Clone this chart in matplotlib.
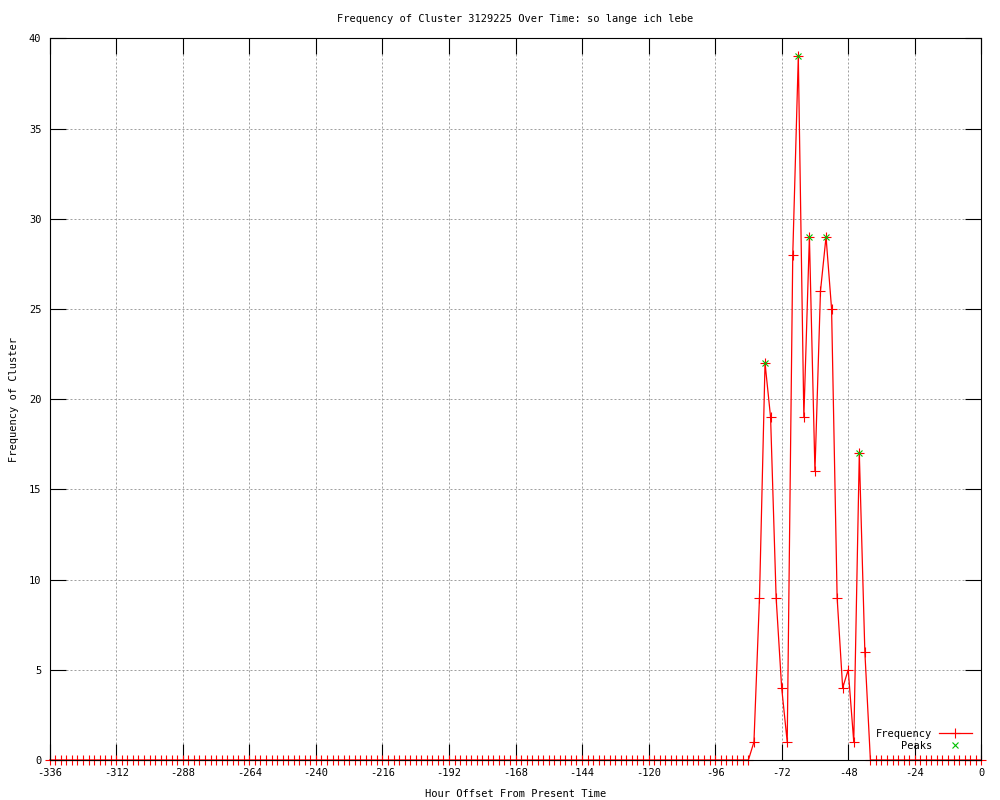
import numpy as np
import matplotlib
matplotlib.use("Agg")
import matplotlib.pyplot as plt

plt.rcParams['font.family'] = ['DejaVu Sans Mono']
plt.rcParams['axes.unicode_minus'] = False

# hourly offsets, one sample every 2 hours
hours = np.arange(-336, 1, 2)
# frequency per sample: flat zero, burst between -82 and -42, then zero again
burst = [1, 9, 22, 19, 9, 4, 1, 28, 39, 19, 29, 16, 26, 29, 25, 9, 4, 5, 1, 17, 6]
freq = [0] * 127 + burst + [0] * 21

peak_hours = [-78, -66, -62, -56, -44]
peak_vals = [22, 39, 29, 29, 17]

xticks = list(range(-336, 1, 24))
yticks = list(range(0, 41, 5))

fig = plt.figure(figsize=(10, 8), dpi=100)
ax = fig.add_axes([0.0497, 0.05, 0.9316, 0.9021])

ax.plot(hours, freq, color='#ff0000', lw=0.9, marker='+', ms=6.5, mew=0.8,
        clip_on=False, label='Frequency')
ax.plot(peak_hours, peak_vals, ls='none', color='#00c000', marker='x', ms=5,
        mew=0.8, clip_on=False, label='    Peaks')

ax.set_xlim(-336, 0)
ax.set_ylim(0, 40)
ax.set_xticks(xticks)
ax.set_yticks(yticks)
ax.grid(True, color='#a0a0a0', lw=0.72, ls=(0, (2, 2)))
ax.set_axisbelow(True)
ax.tick_params(direction='in', length=11.5, width=0.8, top=True, right=True,
               labelsize=7.5, pad=6)
for s in ax.spines.values():
    s.set_linewidth(0.8)

ax.set_title('Frequency of Cluster 3129225 Over Time: so lange ich lebe',
             fontsize=7.5, pad=12)
ax.set_xlabel('Hour Offset From Present Time', fontsize=7.5, labelpad=8)
ax.set_ylabel('Frequency of Cluster', fontsize=7.5, labelpad=7)

leg = ax.legend(loc='lower right', frameon=False, markerfirst=False,
                fontsize=7.5, handlelength=3.2, handletextpad=0.6,
                labelspacing=0.15, borderaxespad=0.5, numpoints=1)

fig.savefig('out.png', dpi=100)
